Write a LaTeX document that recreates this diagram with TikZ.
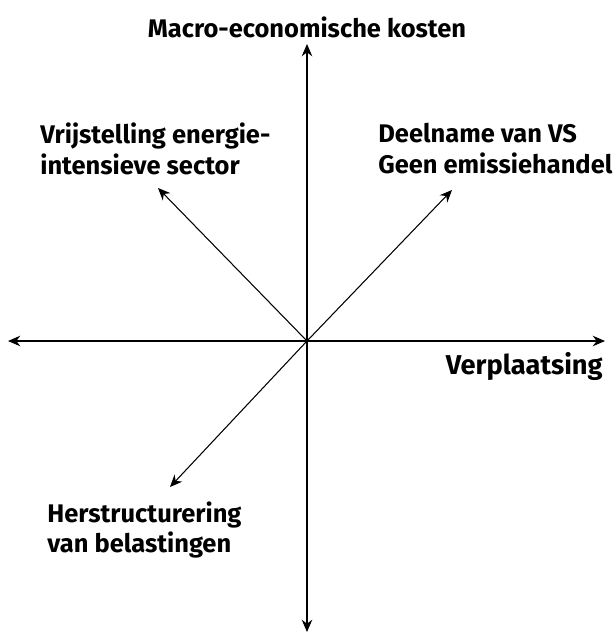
\documentclass[tikz,border=0pt]{standalone}
\usepackage{fontspec}
\setmainfont{Fira Sans}
\usetikzlibrary{arrows.meta}
\tikzset{
  lbl/.style={font=\bfseries\fontsize{14.5}{17.6}\selectfont, inner sep=0pt, align=left},
  axis/.style={line width=0.6pt, -{Stealth[length=7pt,width=6pt]}}
}
\begin{document}
\begin{tikzpicture}[x=0.02cm, y=-0.02cm]
    \useasboundingbox (0,0) rectangle (613,633);
    \coordinate (O) at (307,341);
    \coordinate (N) at (307,44);
    \coordinate (S) at (307,632);
    \coordinate (W) at (8,341);
    \coordinate (E) at (605,341);
    \coordinate (NE) at (452,190);
    \coordinate (NW) at (158,188);
    \coordinate (SW) at (170,487);
    \draw [axis] (O) -- (N);
    \draw [axis] (O) -- (S);
    \draw [axis] (O) -- (W);
    \draw [axis] (O) -- (E);
    \draw [axis] (O) -- (NE);
    \draw [axis] (O) -- (NW);
    \draw [axis] (O) -- (SW);
    \node [lbl] (kosten) at (307,27) {Macro-economische kosten};
    \node [lbl, anchor=west] (vrij) at (40,149) {Vrijstelling energie-\\intensieve sector};
    \node [lbl, anchor=west] (deel) at (378,149) {Deelname van VS\\Geen emissiehandel};
    \node [lbl, anchor=east, font=\bfseries\fontsize{15.5}{17.6}\selectfont] (verpl) at (603,366) {Verplaatsing};
    \node [lbl, anchor=west] (herst) at (47,530) {Herstructurering\\van belastingen};
\end{tikzpicture}
\end{document}
